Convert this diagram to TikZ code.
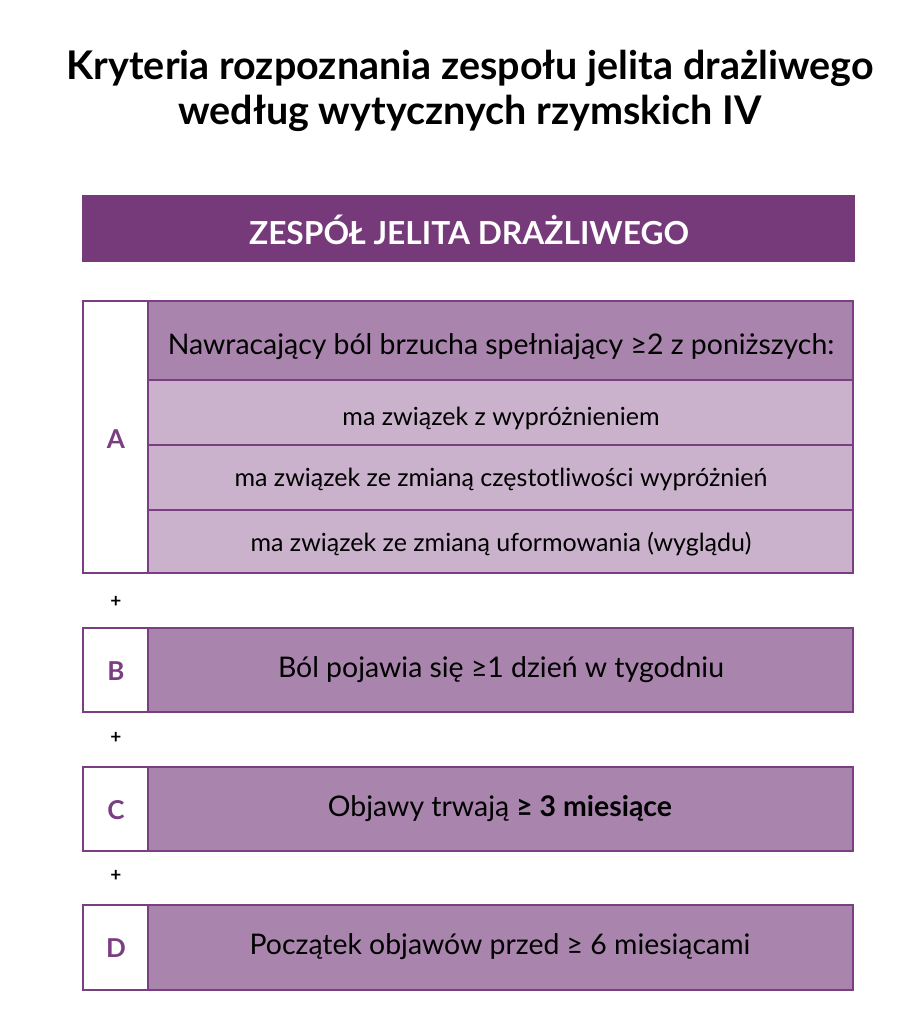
\documentclass[tikz,border=0pt]{standalone}
\usepackage{fontspec}
\setmainfont{Lato}
\definecolor{dark}{HTML}{763A7B}
\definecolor{mid}{HTML}{A984AD}
\definecolor{light}{HTML}{CBB2CC}
\definecolor{edge}{HTML}{7B3E82}
\begin{document}
\begin{tikzpicture}[x=1pt,y=-1pt,
  cell/.style={draw=edge,line width=2.6pt,inner sep=0pt},
  midcell/.style={cell,fill=mid},
  lightcell/.style={cell,fill=light},
  letter/.style={text=edge,font=\fontsize{26}{28}\selectfont\bfseries},
  big/.style={font=\fontsize{28.4}{32}\selectfont},
  small/.style={font=\fontsize{25}{28}\selectfont},
  plus/.style={font=\fontsize{19}{20}\selectfont\bfseries}]
\useasboundingbox (0,0) rectangle (913,1015);
\node[font=\fontsize{39.5}{45}\selectfont\bfseries,align=center] (title) at (470,91) {Kryteria rozpoznania zespołu jelita drażliwego\\według wytycznych rzymskich IV};
\fill[dark] (82,195) rectangle (855,262);
\node[text=white,font=\fontsize{31.7}{34}\selectfont\bfseries] (head) at (469,230) {ZESPÓŁ JELITA DRAŻLIWEGO};
% A
\draw[lightcell] (148,380) rectangle (853,445);
\draw[lightcell] (148,445) rectangle (853,510);
\draw[lightcell] (148,510) rectangle (853,573);
\draw[midcell] (148,301) rectangle (853,380);
\draw[cell,fill=white] (83,301) rectangle (148,573);
\node[letter] (A) at (116,439) {A};
\node[big] (a0) at (501,347) {Nawracający ból brzucha spełniający ≥2 z poniższych:};
\node[small] (a1) at (501,418) {ma związek z wypróżnieniem};
\node[small] (a2) at (501,479) {ma związek ze zmianą częstotliwości wypróżnień};
\node[small] (a3) at (501,544) {ma związek ze zmianą uformowania (wyglądu)};
\node[plus] (p1) at (116,602) {+};
% B
\draw[midcell] (148,628) rectangle (853,712);
\draw[cell,fill=white] (83,628) rectangle (148,712);
\node[letter] (B) at (116,671) {B};
\node[big] (b) at (501,670) {Ból pojawia się ≥1 dzień w tygodniu};
\node[plus] (p2) at (116,738) {+};
% C
\draw[midcell] (148,767) rectangle (853,851);
\draw[cell,fill=white] (83,767) rectangle (148,851);
\node[letter] (C) at (116,810) {C};
\node[big] (c) at (500,809) {Objawy trwają \textbf{≥ 3 miesiące}};
\node[plus] (p3) at (116,876) {+};
% D
\draw[midcell] (148,905) rectangle (853,990);
\draw[cell,fill=white] (83,905) rectangle (148,990);
\node[letter] (D) at (116,948) {D};
\node[big] (d) at (500,947) {Początek objawów przed ≥ 6 miesiącami};
\end{tikzpicture}
\end{document}
